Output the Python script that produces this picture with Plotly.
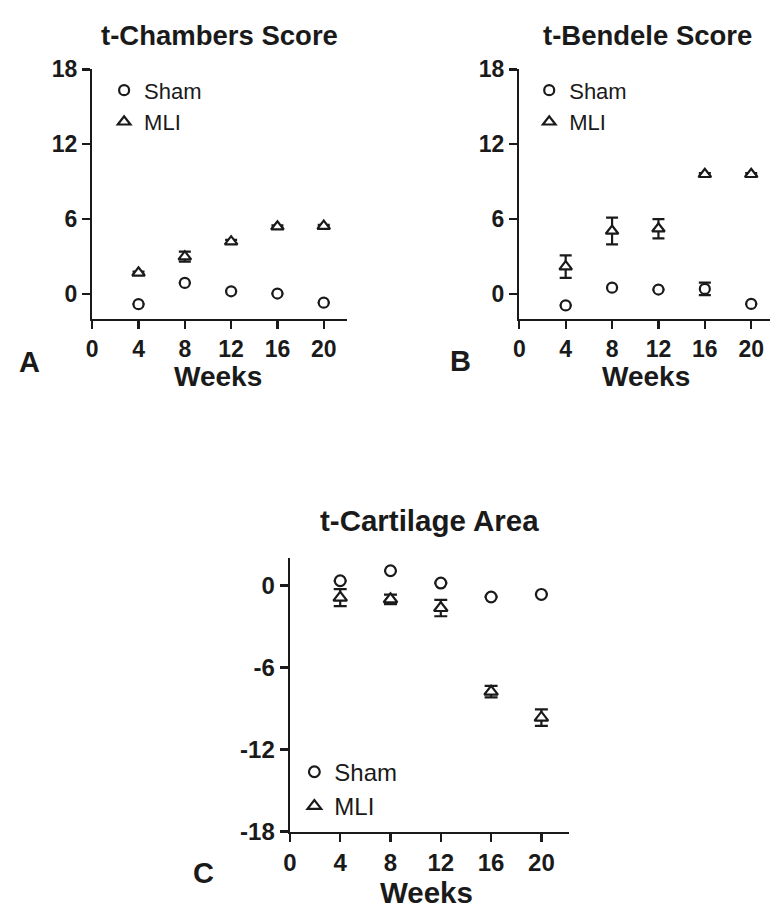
import plotly.graph_objects as go

weeks = [4, 8, 12, 16, 20]

a_sham = [-0.8, 0.9, 0.23, 0.05, -0.68]
a_sham_err = [0.0, 0.0, 0.0, 0.0, 0.0]
a_mli = [1.7, 3.0, 4.2, 5.4, 5.45]
a_mli_err = [0.1, 0.4, 0.15, 0.1, 0.1]

b_sham = [-0.9, 0.52, 0.37, 0.42, -0.78]
b_sham_err = [0.0, 0.0, 0.0, 0.5, 0.0]
b_mli = [2.2, 5.06, 5.24, 9.6, 9.6]
b_mli_err = [0.9, 1.07, 0.77, 0.1, 0.1]

c_sham = [0.36, 1.09, 0.19, -0.83, -0.64]
c_sham_err = [0.0, 0.0, 0.0, 0.0, 0.0]
c_mli = [-0.88, -1.0, -1.64, -7.76, -9.66]
c_mli_err = [0.62, 0.35, 0.6, 0.42, 0.6]

titles = ["t-Chambers Score", "t-Bendele Score", "t-Cartilage Area"]
letters = ["A", "B", "C"]
x_label = "Weeks"
x_ticks = [0, 4, 8, 12, 16, 20]
y_ticks_ab = [0, 6, 12, 18]
y_ticks_c = [-18, -12, -6, 0]
y_ticktext_c = ["-18", "-12", "-6", "0"]

W, H = 770, 923
FONT = "Liberation Sans, Arial, sans-serif"
INK = "#1a1a1a"


def px_x(p):
    return p / W


def px_y(p):
    return 1 - p / H


fig = go.Figure()

panels = [
    dict(sham=a_sham, sham_err=a_sham_err, mli=a_mli, mli_err=a_mli_err,
         xa="x", ya="y", legend="legend", scale=1.0),
    dict(sham=b_sham, sham_err=b_sham_err, mli=b_mli, mli_err=b_mli_err,
         xa="x2", ya="y2", legend="legend2", scale=1.0),
    dict(sham=c_sham, sham_err=c_sham_err, mli=c_mli, mli_err=c_mli_err,
         xa="x3", ya="y3", legend="legend3", scale=1.08),
]

for p in panels:
    s = p["scale"]
    fig.add_trace(go.Scatter(
        x=weeks, y=p["sham"], mode="markers", name="Sham",
        xaxis=p["xa"], yaxis=p["ya"], legend=p["legend"],
        marker=dict(symbol="circle", size=10 * s, color="white",
                    line=dict(color=INK, width=2.2)),
        error_y=dict(type="data", array=p["sham_err"], visible=True,
                     color=INK, thickness=2.2, width=6 * s),
    ))
    fig.add_trace(go.Scatter(
        x=weeks, y=p["mli"], mode="markers", name="MLI",
        xaxis=p["xa"], yaxis=p["ya"], legend=p["legend"],
        marker=dict(symbol="triangle-up", size=11 * s, color="white",
                    line=dict(color=INK, width=2.2)),
        error_y=dict(type="data", array=p["mli_err"], visible=True,
                     color=INK, thickness=2.2, width=6 * s),
    ))


def axis_common(fs):
    return dict(
        showgrid=False, zeroline=False, showline=True, linecolor=INK,
        linewidth=2.3, ticks="outside", ticklen=8, tickwidth=2.3,
        tickcolor=INK, tickfont=dict(family=FONT, size=fs, color=INK, weight="bold"),
        fixedrange=True,
    )


def legend_cfg(left, top, fs):
    return dict(x=px_x(left), y=px_y(top), xanchor="left", yanchor="top",
                font=dict(family=FONT, size=fs, color=INK),
                bgcolor="rgba(0,0,0,0)", borderwidth=0, tracegroupgap=0)


fig.update_layout(
    width=W, height=H,
    margin=dict(l=0, r=0, t=0, b=0),
    paper_bgcolor="white", plot_bgcolor="white",
    xaxis=dict(domain=[px_x(86), px_x(343)], range=[0, 22], anchor="y",
               tickvals=x_ticks, **axis_common(23)),
    yaxis=dict(domain=[px_y(315), px_y(58)], range=[-2, 18], anchor="x",
               tickvals=y_ticks_ab, **axis_common(23)),
    xaxis2=dict(domain=[px_x(517), 1.0], range=[0, 21.62], anchor="y2",
                tickvals=x_ticks, **axis_common(23)),
    yaxis2=dict(domain=[px_y(315), px_y(58)], range=[-2, 18], anchor="x2",
                tickvals=y_ticks_ab, **axis_common(23)),
    xaxis3=dict(domain=[px_x(285.5), px_x(566.7)], range=[0, 22.16], anchor="y3",
                tickvals=x_ticks, **axis_common(24)),
    yaxis3=dict(domain=[px_y(842.3), px_y(560.7)], range=[-18, 2.03], anchor="x3",
                tickvals=y_ticks_c, ticktext=y_ticktext_c, **axis_common(24)),
    legend=legend_cfg(98, 58, 22),
    legend2=legend_cfg(527, 58, 22),
    legend3=legend_cfg(290, 758, 24),
)

ann = []
title_pos = [(214, 23, 27.5), (646, 23, 27.5), (426, 522, 29.5)]
for t, (x, y, fs) in zip(titles, title_pos):
    ann.append(dict(text=t, x=px_x(x), y=px_y(y), xref="paper", yref="paper",
                    showarrow=False, xanchor="center", yanchor="middle",
                    font=dict(family=FONT, size=fs, color=INK, weight="bold")))
weeks_pos = [(213, 374, 28), (645, 374, 28), (423, 905, 29.5)]
for (x, y, fs) in weeks_pos:
    ann.append(dict(text=x_label, x=px_x(x), y=px_y(y), xref="paper", yref="paper",
                    showarrow=False, xanchor="center", yanchor="middle",
                    font=dict(family=FONT, size=fs, color=INK, weight="bold")))
letter_pos = [(23, 359), (458, 358), (198, 885)]
for l, (x, y) in zip(letters, letter_pos):
    ann.append(dict(text=l, x=px_x(x), y=px_y(y), xref="paper", yref="paper",
                    showarrow=False, xanchor="center", yanchor="middle",
                    font=dict(family=FONT, size=29, color=INK, weight="bold")))
fig.update_layout(annotations=ann)

fig.write_html("out.html",
               config={"displayModeBar": False, "staticPlot": True},
               post_script="document.body.style.margin='0';document.body.style.overflow='hidden';")
